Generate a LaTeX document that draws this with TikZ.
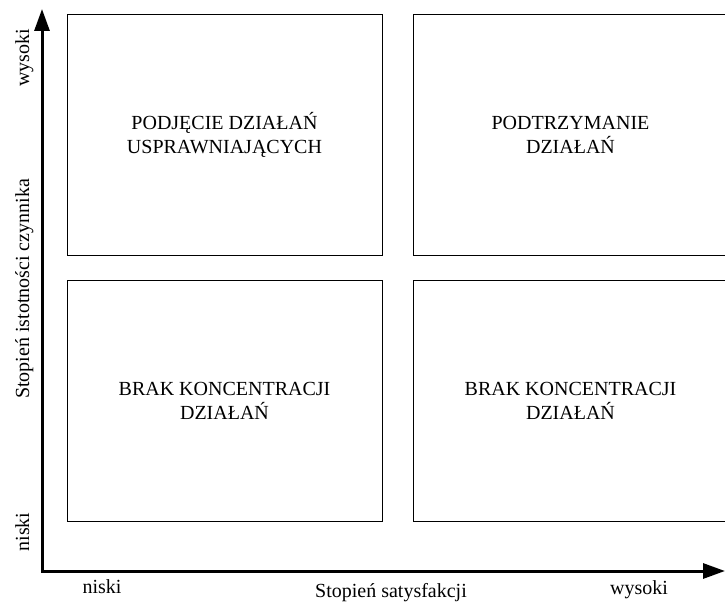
\documentclass[tikz,border=0pt]{standalone}
\usepackage{fontspec}
\setmainfont{Liberation Serif}
\usetikzlibrary{arrows.meta}
\begin{document}
\begin{tikzpicture}[x=1pt,y=-1pt,
  quad/.style={draw=black, line width=0.9pt, minimum width=315pt, minimum height=241pt,
    inner sep=0pt, align=center, font=\fontsize{20}{24}\selectfont},
  axis/.style={line width=3pt, -{Triangle[length=22pt,width=15pt]}},
  lbl/.style={inner sep=0pt, font=\fontsize{20}{24}\selectfont}]
\useasboundingbox (0,0) rectangle (725,604);
\node[quad] (tl) at (224.5,134.5) {PODJĘCIE DZIAŁAŃ\\USPRAWNIAJĄCYCH};
\node[quad] (tr) at (570.5,134.5) {PODTRZYMANIE\\DZIAŁAŃ};
\node[quad] (bl) at (224.5,401) {BRAK KONCENTRACJI\\DZIAŁAŃ};
\node[quad] (br) at (570.5,401) {BRAK KONCENTRACJI\\DZIAŁAŃ};
\coordinate (o) at (42,571);
\coordinate (ytip) at (42,9);
\coordinate (xtip) at (725,571);
\draw[axis, line cap=rect] (o) -- (ytip);
\draw[axis, line cap=rect] (o) -- (xtip);
\node[lbl, rotate=90, anchor=base] (yhi) at (29,58) {wysoki};
\node[lbl, rotate=90, anchor=base] (ylo) at (29,532) {niski};
\node[lbl, rotate=90, anchor=base] (ytitle) at (29,289) {Stopień istotności czynnika};
\node[lbl, anchor=base] (xlo) at (102,593) {niski};
\node[lbl, anchor=base] (xtitle) at (391,597) {Stopień satysfakcji};
\node[lbl, anchor=base] (xhi) at (639,594) {wysoki};
\end{tikzpicture}
\end{document}
